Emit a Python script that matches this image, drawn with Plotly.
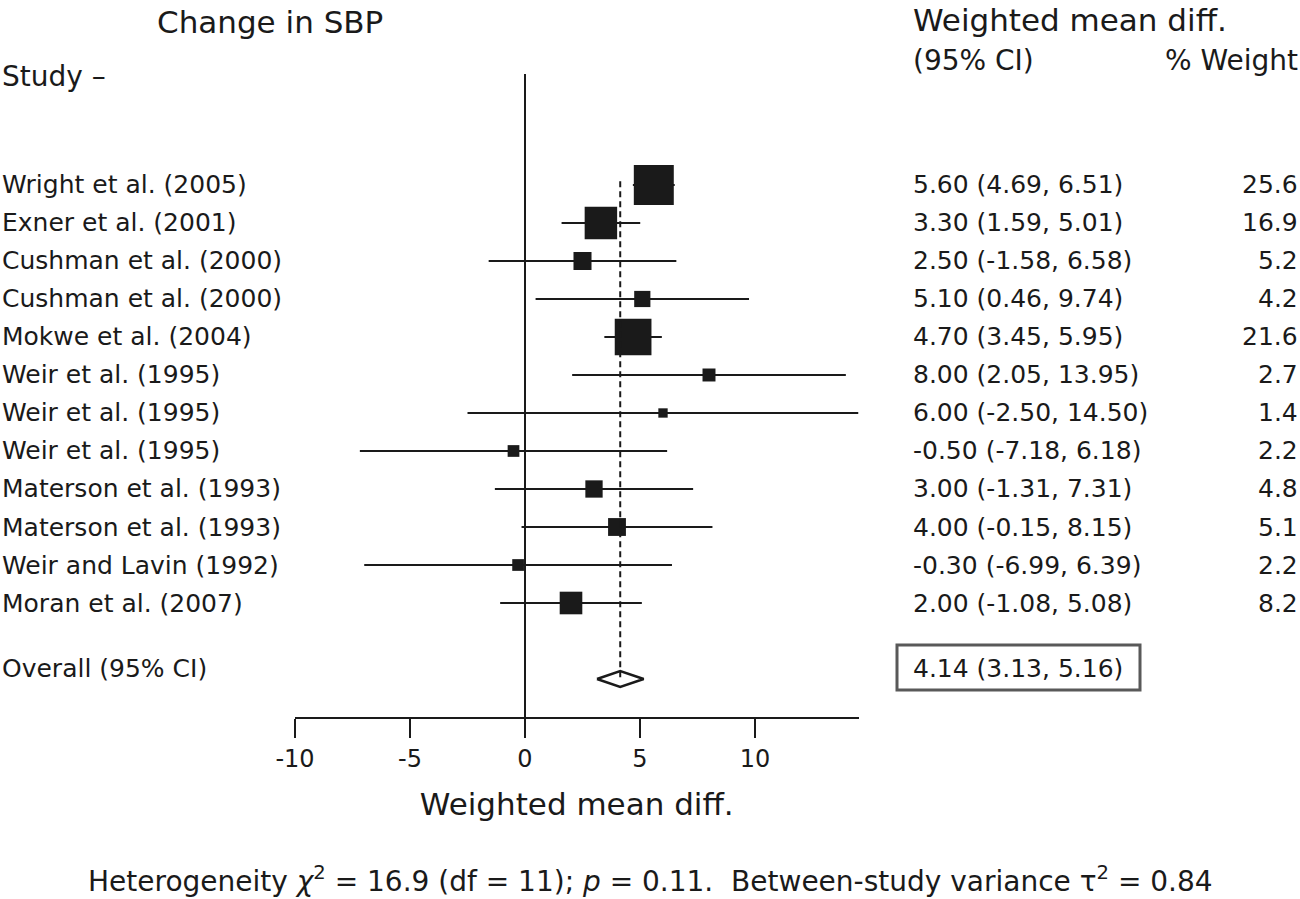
import math
import plotly.graph_objects as go

# ---------------- data ----------------
studies = [
    "Wright et al. (2005)", "Exner et al. (2001)", "Cushman et al. (2000)",
    "Cushman et al. (2000)", "Mokwe et al. (2004)", "Weir et al. (1995)",
    "Weir et al. (1995)", "Weir et al. (1995)", "Materson et al. (1993)",
    "Materson et al. (1993)", "Weir and Lavin (1992)", "Moran et al. (2007)",
]
wmd = [5.60, 3.30, 2.50, 5.10, 4.70, 8.00, 6.00, -0.50, 3.00, 4.00, -0.30, 2.00]
ci_low = [4.69, 1.59, -1.58, 0.46, 3.45, 2.05, -2.50, -7.18, -1.31, -0.15, -6.99, -1.08]
ci_high = [6.51, 5.01, 6.58, 9.74, 5.95, 13.95, 14.50, 6.18, 7.31, 8.15, 6.39, 5.08]
weights = [25.6, 16.9, 5.2, 4.2, 21.6, 2.7, 1.4, 2.2, 4.8, 5.1, 2.2, 8.2]

overall_est = 4.14
overall_low = 3.13
overall_high = 5.16

tick_vals = [-10, -5, 0, 5, 10]
tick_text = ["-10", "-5", "0", "5", "10"]

# ---------------- layout helpers ----------------
W, H = 1300, 899
FONT = "DejaVu Sans, Liberation Sans, Arial, sans-serif"
INK = "#1a1a1a"
rows = list(range(len(studies)))
overall_row = 13
overall_text_row = 12.72


def px(x):
    return x / W


def py(y):
    return 1 - y / H


fig = go.Figure()

# zero line
fig.add_trace(go.Scatter(x=[0, 0], y=[-2.92, 14.0], mode="lines",
                         line=dict(color=INK, width=2), hoverinfo="skip"))

# confidence intervals
cx, cy = [], []
for lo, hi, r in zip(ci_low, ci_high, rows):
    cx += [lo, hi, None]
    cy += [r, r, None]
fig.add_trace(go.Scatter(x=cx, y=cy, mode="lines",
                         line=dict(color=INK, width=2), hoverinfo="skip"))

# boxes (area proportional to weight)
sizes = [7.9 * math.sqrt(w) for w in weights]
fig.add_trace(go.Scatter(x=wmd, y=rows, mode="markers",
                         marker=dict(symbol="square", size=sizes, color=INK,
                                     opacity=1, line=dict(width=0))))

# overall diamond
fig.add_trace(go.Scatter(
    x=[overall_low, overall_est, overall_high, overall_est, overall_low],
    y=[overall_row, overall_row - 0.21, overall_row, overall_row + 0.21, overall_row],
    mode="lines", fill="toself", fillcolor="white",
    line=dict(color=INK, width=2.5), hoverinfo="skip"))

# dashed overall line
fig.add_trace(go.Scatter(x=[overall_est, overall_est], y=[-0.1, overall_row],
                         mode="lines", line=dict(color=INK, width=2, dash="6px,4px"),
                         hoverinfo="skip"))


def ann(text, x, y, xanchor="left", size=25, yref="paper", family=FONT):
    return dict(text=text, x=x, xref="paper", y=y, yref=yref,
                xanchor=xanchor, yanchor="middle", showarrow=False,
                font=dict(size=size, color=INK, family=family))


annotations = []
# study labels and right columns
for s, m, lo, hi, w, r in zip(studies, wmd, ci_low, ci_high, weights, rows):
    annotations.append(ann(s, px(0), r, yref="y"))
    annotations.append(ann(f"{m:.2f} ({lo:.2f}, {hi:.2f})", px(911), r, yref="y"))
    annotations.append(ann(f"{w:.1f}", px(1300), r, xanchor="right", yref="y"))

annotations.append(ann("Overall (95% CI)", px(0), overall_text_row, yref="y"))
annotations.append(ann(f"{overall_est:.2f} ({overall_low:.2f}, {overall_high:.2f})",
                       px(911), overall_text_row, yref="y"))

# headers
annotations += [
    ann("Change in SBP", px(270), py(22), xanchor="center", size=31),
    ann("Study –", px(0), py(76), size=28),
    ann("Weighted mean diff.", px(911), py(20), size=31),
    ann("(95% CI)", px(911), py(60), size=28),
    ann("% Weight", px(1300), py(60), xanchor="right", size=28),
    ann("Heterogeneity <i>χ</i><sup>2</sup> = 16.9 (df = 11); <i>p</i> = 0.11.&nbsp; "
        "Between-study variance τ<sup>2</sup> = 0.84",
        px(650), py(879), xanchor="center", size=28),
]

shapes = [dict(type="rect", xref="paper", yref="paper",
               x0=px(897), x1=px(1140), y0=py(645), y1=py(690),
               line=dict(color="#595959", width=3), fillcolor="rgba(0,0,0,0)")]

fig.update_layout(
    template="none",
    width=W, height=H, autosize=False,
    margin=dict(l=0, r=0, t=0, b=0, pad=0),
    paper_bgcolor="white", plot_bgcolor="white",
    showlegend=False,
    annotations=annotations, shapes=shapes,
    xaxis=dict(domain=[px(295), px(858.5)], range=[-10, 14.5], automargin=False,
               showgrid=False, zeroline=False, showline=True,
               linecolor=INK, linewidth=2,
               ticks="outside", ticklen=19, tickwidth=2, tickcolor=INK,
               tickvals=tick_vals, ticktext=tick_text,
               tickfont=dict(size=24, color=INK, family=FONT),
               title=dict(text="Weighted mean diff.", standoff=22,
                          font=dict(size=31, color=INK, family=FONT))),
    yaxis=dict(domain=[py(717), 1], range=[14.0, -4.868], automargin=False,
               showgrid=False, zeroline=False, showline=False,
               showticklabels=False, ticks=""),
)

fig.write_html(
    "out.html",
    config={"displayModeBar": False},
    post_script="document.body.style.margin='0';document.body.style.overflow='hidden';",
)
